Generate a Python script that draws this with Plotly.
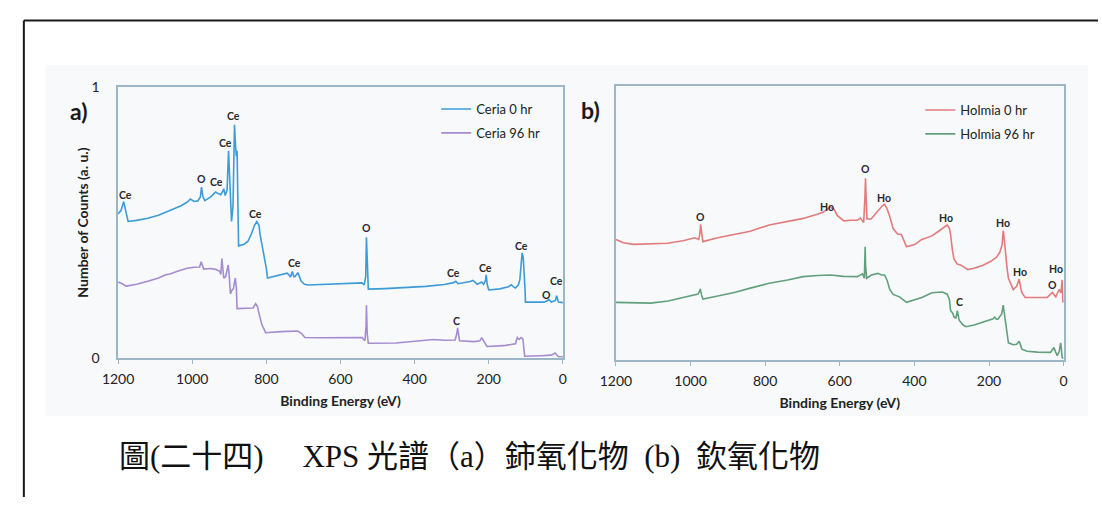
import plotly.graph_objects as go

# ---- Ceria survey spectra (binding energy in eV, normalised counts) ----
ceria_0_e = [1200, 1192, 1185, 1178, 1173, 1150, 1120, 1091, 1060, 1030, 1014, 1005, 995, 985, 978,
             975, 971, 966, 950, 937, 930, 923, 918, 915, 911, 906, 902, 898, 894, 890, 886, 883,
             881, 879, 877, 875, 860, 850, 841, 832, 826, 820, 817, 812, 807, 800, 797, 780, 764,
             744, 738, 735, 730, 726, 723, 715, 706, 697, 687, 650, 600, 560, 542, 536, 532, 530,
             527, 525, 480, 417, 370, 320, 295, 289, 285, 283, 250, 243, 237, 231, 225, 219, 214,
             209, 207, 204, 200, 170, 147, 139, 133, 128, 120, 116, 113, 110, 107, 105, 102, 101,
             80, 51, 41, 38, 31, 20, 17, 14, 12, 5, 0]
ceria_0_y = [0.532, 0.545, 0.577, 0.540, 0.504, 0.508, 0.516, 0.527, 0.545, 0.562, 0.575, 0.587,
             0.578, 0.580, 0.595, 0.631, 0.595, 0.581, 0.595, 0.613, 0.607, 0.603, 0.615, 0.625,
             0.600, 0.620, 0.765, 0.640, 0.504, 0.560, 0.861, 0.780, 0.745, 0.765, 0.600, 0.414,
             0.420, 0.430, 0.456, 0.490, 0.504, 0.490, 0.456, 0.420, 0.373, 0.330, 0.295, 0.300,
             0.307, 0.313, 0.305, 0.298, 0.319, 0.300, 0.300, 0.315, 0.283, 0.272, 0.269, 0.271,
             0.273, 0.276, 0.277, 0.270, 0.300, 0.446, 0.300, 0.254, 0.256, 0.260, 0.264, 0.271,
             0.278, 0.283, 0.278, 0.274, 0.282, 0.286, 0.280, 0.272, 0.276, 0.280, 0.272, 0.285,
             0.307, 0.270, 0.251, 0.255, 0.263, 0.270, 0.262, 0.258, 0.270, 0.290, 0.340, 0.388,
             0.370, 0.330, 0.250, 0.206, 0.206, 0.206, 0.212, 0.216, 0.206, 0.212, 0.230, 0.215,
             0.206, 0.205, 0.204]

ceria_96_e = [1200, 1190, 1178, 1150, 1120, 1091, 1072, 1060, 1040, 1014, 995, 980, 976, 972, 969,
              950, 937, 926, 923, 920, 918, 915, 910, 903, 900, 897, 893, 889, 884, 881, 879, 860,
              836, 829, 824, 821, 812, 806, 802, 760, 715, 705, 696, 650, 600, 542, 534, 531, 530,
              528, 525, 450, 349, 320, 291, 286, 284, 281, 279, 240, 224, 219, 214, 205, 160, 128,
              123, 118, 113, 108, 105, 103, 60, 31, 21, 16, 12, 0]
ceria_96_y = [0.280, 0.275, 0.265, 0.272, 0.283, 0.295, 0.307, 0.310, 0.320, 0.331, 0.335, 0.336,
              0.355, 0.340, 0.328, 0.330, 0.327, 0.320, 0.308, 0.367, 0.320, 0.295, 0.300, 0.343,
              0.300, 0.236, 0.250, 0.255, 0.295, 0.260, 0.182, 0.182, 0.184, 0.200, 0.190, 0.170,
              0.122, 0.105, 0.093, 0.097, 0.099, 0.090, 0.075, 0.074, 0.075, 0.075, 0.063, 0.120,
              0.194, 0.090, 0.054, 0.055, 0.068, 0.065, 0.066, 0.090, 0.111, 0.070, 0.063, 0.060,
              0.063, 0.075, 0.065, 0.042, 0.045, 0.052, 0.075, 0.068, 0.075, 0.070, 0.030, 0.006,
              0.008, 0.010, 0.018, 0.012, 0.004, 0.004]

# ---- Holmia survey spectra ----
holmia_0_e = [1200, 1180, 1153, 1100, 1062, 1020, 989, 978, 975, 973, 970, 967, 930, 880, 840, 789,
              740, 698, 660, 644, 625, 615, 607, 589, 570, 553, 545, 536, 533, 531, 529, 527, 516,
              500, 486, 480, 474, 466, 457, 445, 435, 421, 398, 380, 353, 335, 325, 312, 306, 303,
              298, 294, 285, 275, 257, 240, 216, 195, 180, 171, 165, 162, 159, 157, 152, 148, 135,
              126, 119, 116, 112, 103, 70, 44, 30, 25, 21, 12, 7, 4, 2, 0]
holmia_0_y = [0.440, 0.428, 0.422, 0.424, 0.426, 0.435, 0.446, 0.440, 0.460, 0.495, 0.460, 0.432,
              0.445, 0.458, 0.470, 0.493, 0.505, 0.517, 0.532, 0.540, 0.558, 0.550, 0.528, 0.508,
              0.510, 0.510, 0.518, 0.502, 0.580, 0.664, 0.580, 0.515, 0.515, 0.540, 0.563, 0.568,
              0.555, 0.524, 0.480, 0.460, 0.458, 0.413, 0.422, 0.440, 0.453, 0.470, 0.481, 0.493,
              0.480, 0.458, 0.400, 0.369, 0.350, 0.346, 0.330, 0.335, 0.346, 0.360, 0.375, 0.393,
              0.420, 0.472, 0.440, 0.404, 0.340, 0.298, 0.257, 0.269, 0.295, 0.270, 0.245, 0.228,
              0.228, 0.228, 0.246, 0.235, 0.230, 0.257, 0.245, 0.292, 0.210, 0.216]

holmia_96_e = [1200, 1150, 1107, 1060, 1016, 990, 980, 976, 974, 971, 967, 930, 880, 840, 789, 740,
               698, 660, 625, 590, 553, 539, 534, 533, 532, 531, 528, 515, 498, 488, 480, 473, 466,
               457, 440, 421, 400, 380, 353, 335, 325, 312, 306, 303, 297, 294, 289, 286, 285, 283,
               280, 270, 262, 240, 216, 195, 189, 185, 180, 176, 170, 166, 162, 159, 157, 152, 148,
               135, 126, 119, 115, 112, 98, 70, 35, 30, 26, 22, 17, 12, 8, 6, 4, 0]
holmia_96_y = [0.210, 0.208, 0.207, 0.215, 0.228, 0.235, 0.240, 0.250, 0.259, 0.240, 0.222, 0.232,
               0.247, 0.262, 0.280, 0.292, 0.304, 0.308, 0.310, 0.305, 0.304, 0.314, 0.298, 0.360,
               0.413, 0.350, 0.298, 0.310, 0.316, 0.310, 0.310, 0.290, 0.257, 0.239, 0.230, 0.210,
               0.220, 0.228, 0.245, 0.246, 0.248, 0.240, 0.220, 0.180, 0.170, 0.157, 0.153, 0.170,
               0.180, 0.165, 0.145, 0.128, 0.121, 0.127, 0.139, 0.148, 0.150, 0.156, 0.148, 0.148,
               0.160, 0.168, 0.200, 0.170, 0.140, 0.090, 0.062, 0.055, 0.057, 0.068, 0.050, 0.039,
               0.031, 0.028, 0.027, 0.035, 0.045, 0.030, 0.015, 0.030, 0.062, 0.040, 0.008, 0.005]

# ---- peak assignments ----
ceria_peak_text = ["Ce", "O", "Ce", "Ce", "Ce", "Ce", "Ce", "O", "Ce", "Ce", "Ce", "Ce", "O", "C"]
ceria_peak_e = [1180, 976, 934, 911, 888, 828, 723, 529, 295, 208, 111, 18, 44, 286]
ceria_peak_y = [0.602, 0.662, 0.650, 0.793, 0.893, 0.532, 0.349, 0.480, 0.313, 0.331, 0.412, 0.284,
                0.232, 0.137]

holmia_peak_text = ["O", "Ho", "O", "Ho", "Ho", "Ho", "Ho", "Ho", "O", "C"]
holmia_peak_e = [973, 635, 530, 482, 316, 162, 116, 20, 30, 280]
holmia_peak_y = [0.522, 0.558, 0.697, 0.591, 0.519, 0.500, 0.322, 0.333, 0.272, 0.210]

x_ticks = [1200, 1000, 800, 600, 400, 200, 0]
y_ticks = [0, 1]

W, H = 1102, 505
FONT = "Lato, 'Open Sans', sans-serif"
AXIS_COLOR = "#9cb6c6"
TEXT_COLOR = "#222"


def px_x(p):
    return p / W


def px_y(p):
    return 1 - p / H


fig = go.Figure()

series = [
    ("Ceria 0 hr", ceria_0_e, ceria_0_y, "#3d9bd8", "x", "y", "legend"),
    ("Ceria 96 hr", ceria_96_e, ceria_96_y, "#a58bd0", "x", "y", "legend"),
    ("Holmia 0 hr", holmia_0_e, holmia_0_y, "#e27b7b", "x2", "y2", "legend2"),
    ("Holmia 96 hr", holmia_96_e, holmia_96_y, "#62a07c", "x2", "y2", "legend2"),
]
for name, xs, ys, color, xa, ya, lg in series:
    fig.add_trace(go.Scatter(
        x=xs, y=ys, name=name, mode="lines",
        line=dict(color=color, width=1.6),
        xaxis=xa, yaxis=ya, legend=lg, legendgroup=name,
    ))

# peak labels
for texts, es, ys, xr, yr in [
    (ceria_peak_text, ceria_peak_e, ceria_peak_y, "x", "y"),
    (holmia_peak_text, holmia_peak_e, holmia_peak_y, "x2", "y2"),
]:
    for t, e, v in zip(texts, es, ys):
        fig.add_annotation(x=e, y=v, xref=xr, yref=yr, text=t, showarrow=False,
                           font=dict(family=FONT, size=10.5, color="#2a2a2a", weight="bold"))

axis_common = dict(
    showline=True, linecolor=AXIS_COLOR, linewidth=1.5, mirror=True,
    showgrid=False, zeroline=False,
    tickfont=dict(family=FONT, size=14, color=TEXT_COLOR),
)
title_font = dict(family=FONT, size=14, color=TEXT_COLOR)

fig.update_layout(
    width=W, height=H,
    margin=dict(l=0, r=0, t=0, b=0),
    paper_bgcolor="white",
    plot_bgcolor="#fcfdfe",
    showlegend=True,
    xaxis=dict(domain=[px_x(104), px_x(557)], range=[1200, 0], tickvals=x_ticks,
               ticks="outside", ticklen=4, tickcolor=AXIS_COLOR, anchor="y",
               ticklabelstandoff=4,
               title=dict(text="<b>Binding Energy (eV)</b>", standoff=10, font=title_font),
               **axis_common),
    yaxis=dict(domain=[px_y(361), px_y(81)], range=[0, 1], tickvals=y_ticks,
               ticks="", ticklabelstandoff=14, anchor="x",
               title=dict(text="<b>Number of Counts (a. u.)</b>", standoff=0, font=title_font),
               **axis_common),
    xaxis2=dict(domain=[px_x(611), px_x(1067)], range=[1200, 0], tickvals=x_ticks,
                ticks="outside", ticklen=4, tickcolor=AXIS_COLOR, anchor="y2",
                ticklabelstandoff=4,
                title=dict(text="<b>Binding Energy (eV)</b>", standoff=10, font=title_font),
                **axis_common),
    yaxis2=dict(domain=[px_y(363), px_y(80)], range=[0, 1], showticklabels=False,
                ticks="", anchor="x2", **axis_common),
    legend=dict(x=px_x(428), y=px_y(88), xanchor="left", yanchor="top",
                bgcolor="rgba(0,0,0,0)", itemwidth=30, tracegroupgap=4,
                font=dict(family=FONT, size=13, color=TEXT_COLOR)),
    legend2=dict(x=px_x(921), y=px_y(89), xanchor="left", yanchor="top",
                 bgcolor="rgba(0,0,0,0)", itemwidth=30, tracegroupgap=4,
                 font=dict(family=FONT, size=13, color=TEXT_COLOR)),
)

# light panel backdrop and page frame
fig.add_shape(type="rect", xref="paper", yref="paper",
              x0=px_x(30), x1=px_x(1092), y0=px_y(421), y1=px_y(58),
              fillcolor="#f7f9fb", line=dict(width=0), layer="below")
fig.add_shape(type="line", xref="paper", yref="paper",
              x0=px_x(8), x1=1, y0=px_y(12), y1=px_y(12),
              line=dict(color="#1a1a1a", width=2))
fig.add_shape(type="line", xref="paper", yref="paper",
              x0=px_x(8), x1=px_x(8), y0=px_y(12), y1=0,
              line=dict(color="#1a1a1a", width=2))

# panel letters
fig.add_annotation(x=px_x(53), y=px_y(89), xref="paper", yref="paper", text="<b>a)</b>",
                   showarrow=False, font=dict(family=FONT, size=23, color="#1a1a1a"))
fig.add_annotation(x=px_x(585), y=px_y(88), xref="paper", yref="paper", text="<b>b)</b>",
                   showarrow=False, font=dict(family=FONT, size=23, color="#1a1a1a"))

# figure caption
fig.add_annotation(x=px_x(103), y=px_y(463), xref="paper", yref="paper",
                   xanchor="left", yanchor="middle", showarrow=False,
                   text="圖(二十四)　 XPS 光譜（a）鈰氧化物  (b)  欽氧化物",
                   font=dict(family="'Liberation Serif', 'Noto Sans CJK TC', serif",
                             size=31, color="#111"))

fig.write_html("out.html")
